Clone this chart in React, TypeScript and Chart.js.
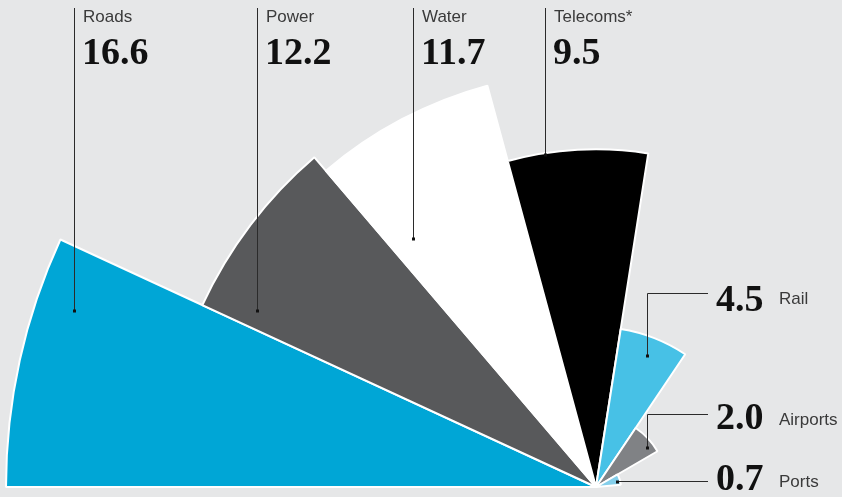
import React, { useEffect, useRef } from "react";
import { Chart, registerables } from "chart.js";

Chart.register(...registerables);

const categories = ["Roads", "Power", "Water", "Telecoms*", "Rail", "Airports", "Ports"];
const values = [16.6, 12.2, 11.7, 9.5, 4.5, 2.0, 0.7];
const valueLabels = ["16.6", "12.2", "11.7", "9.5", "4.5", "2.0", "0.7"];
const colors = ["#00a6d6", "#58595b", "#ffffff", "#000000", "#47c1e6", "#808285", "#84cfeb"];

// layout (not data): angular width of each slice in degrees
const sliceAngles = [24.8, 24.7, 25.35, 24.05, 25.0, 25.9, 25.2];
// where each leader line touches its slice, as fractions of slice angle / radius
const anchorAngleFrac = [0.75, 0.105, 0.162, 0.268, 0.49, 0.724, 0.69];
const anchorRadiusFrac = [0.934, 0.88, 0.74, 0.995, 0.878, 0.897, 0.85];
// label placement: first four on top columns, last three on right rows
const rightRowLineY = [293, 414, 481];
const rightRowNameBase = [304, 425, 487];
const rightRowValueBase = [311, 429, 490];

const BG = "#e6e7e8";
const SANS = "'Liberation Sans', Arial, sans-serif";
const SERIF = "'Liberation Serif', 'Times New Roman', serif";

const labelPlugin = {
  id: "leaderLabels",
  afterDatasetsDraw(chart: any) {
    const ctx = chart.ctx;
    const meta = chart.getDatasetMeta(0);
    ctx.save();
    meta.data.forEach((arc: any, i: number) => {
      const a = arc.startAngle + anchorAngleFrac[i] * (arc.endAngle - arc.startAngle);
      const r = anchorRadiusFrac[i] * arc.outerRadius;
      const px = Math.round(arc.x + r * Math.cos(a)) + 0.5;
      const py = Math.round(arc.y + r * Math.sin(a));
      ctx.strokeStyle = "#2b2b2b";
      ctx.lineWidth = 1;
      ctx.beginPath();
      if (i < 4) {
        ctx.moveTo(px, 8);
        ctx.lineTo(px, py);
        ctx.stroke();
        ctx.fillStyle = "#111";
        ctx.fillRect(px - 1.5, py - 1.5, 3, 3);
        ctx.fillStyle = "#3a3a3a";
        ctx.font = `17px ${SANS}`;
        ctx.textBaseline = "alphabetic";
        ctx.textAlign = "left";
        ctx.fillText(categories[i], px + 8.5, 22);
        ctx.fillStyle = "#111";
        ctx.font = `bold 38px ${SERIF}`;
        ctx.fillText(valueLabels[i], px + 7.5, 64);
      } else {
        const k = i - 4;
        const ly = rightRowLineY[k] + 0.5;
        ctx.moveTo(px, py);
        ctx.lineTo(px, ly);
        ctx.lineTo(708, ly);
        ctx.stroke();
        ctx.fillStyle = "#111";
        ctx.fillRect(px - 1.5, py - 1.5, 3, 3);
        ctx.textAlign = "left";
        ctx.textBaseline = "alphabetic";
        ctx.font = `bold 38px ${SERIF}`;
        ctx.fillText(valueLabels[i], 716, rightRowValueBase[k]);
        ctx.fillStyle = "#3a3a3a";
        ctx.font = `17px ${SANS}`;
        ctx.fillText(categories[i], 779, rightRowNameBase[k]);
      }
    });
    ctx.restore();
  },
};

export default function App() {
  const ref = useRef<HTMLCanvasElement | null>(null);

  useEffect(() => {
    if (!ref.current) return;
    const chart = new Chart(ref.current, {
      type: "polarArea",
      data: {
        labels: categories,
        datasets: [
          {
            data: values,
            backgroundColor: colors,
            borderColor: "#ffffff",
            borderWidth: 2,
            angle: (c: any) => sliceAngles[c.dataIndex] ?? 25,
          } as any,
        ],
      },
      options: {
        responsive: false,
        animation: false,
        layout: { padding: 0 },
        plugins: {
          legend: { display: false },
          tooltip: { enabled: false },
        },
        scales: {
          r: {
            display: false,
            min: 0,
            max: 16.6,
            startAngle: -90,
            ticks: { display: false },
            pointLabels: { display: false },
            afterFit: (scale: any) => {
              scale.xCenter = 596;
              scale.yCenter = 487;
              scale.drawingArea = 590;
            },
          } as any,
        },
      },
      plugins: [labelPlugin],
    });
    return () => chart.destroy();
  }, []);

  return (
    <div
      style={{
        position: "absolute",
        left: 0,
        top: 0,
        width: 842,
        height: 497,
        background: BG,
        overflow: "hidden",
      }}
    >
      <canvas ref={ref} width={842} height={497} style={{ display: "block" }} />
    </div>
  );
}
